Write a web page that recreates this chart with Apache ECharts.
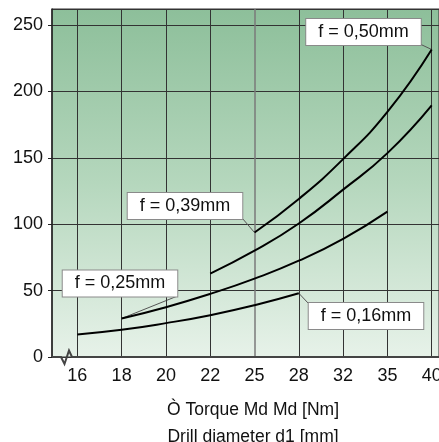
<!DOCTYPE html>
<html><head><meta charset="utf-8">
<script src="https://cdn.jsdelivr.net/npm/echarts@6/dist/echarts.min.js"></script>
<style>html,body{margin:0;padding:0;background:#fff}#c{width:439px;height:442px}</style>
</head><body><div id="c"></div>
<script>
// ---- data ----
const categories = ['16', '18', '20', '22', '25', '28', '32', '35', '40'];
const yTickStep = 50;
const yMax = 262;
// each curve starts at the given category and continues on consecutive categories
const curveF016 = [17, 20.5, 25.5, 31.5, 39, 48];          // from '16'
const curveF025 = [29, 37.5, 47.5, 59, 72.5, 89, 109.5];   // from '18'
const curveF039 = [62.8, 80, 100.5, 126, 153.5, 189.5];    // from '22'
const curveF050 = [93.7, 119, 149, 184.5, 231.5];          // from '25'
const curveStarts = ['16', '18', '22', '25'];
const labelTexts = ['f = 0,16mm', 'f = 0,25mm', 'f = 0,39mm', 'f = 0,50mm'];
const axisTitleLines = ['Ò Torque Md Md [Nm]', 'Drill diameter d1 [mm]'];

const FONT = '"Liberation Sans", Arial, Helvetica, sans-serif';

function toPairs(arr, start) {
  const s = categories.indexOf(start);
  return arr.map((v, i) => [s + i, v]);
}

// label anchor: which curve / which point; box = pixel centre of the label box, corner = leader end
const labelSpecs = [
  { curve: 0, at: 'last',  text: labelTexts[0], box: [366, 316],   corner: [308.5, 303.5] },
  { curve: 1, at: 'first', text: labelTexts[1], box: [120, 283.5], corner: [177.5, 296] },
  { curve: 3, at: 'first', text: labelTexts[2], box: [185, 206],   corner: [242.5, 218.5] },
  { curve: 3, at: 'last',  text: labelTexts[3], box: [363.5, 32],  corner: [421, 44.5] }
];

const curves = [
  toPairs(curveF016, curveStarts[0]),
  toPairs(curveF025, curveStarts[1]),
  toPairs(curveF039, curveStarts[2]),
  toPairs(curveF050, curveStarts[3])
];

const labelStyle = {
  show: true,
  position: 'top',
  backgroundColor: '#ffffff',
  borderColor: '#8a8a8a',
  borderWidth: 1,
  padding: [4, 12, 4, 12],
  fontSize: 18,
  lineHeight: 18,
  color: '#111',
  fontFamily: FONT
};

function specFor(specs, idx, len) {
  return specs.find(s => (s.at === 'first' && idx === 0) || (s.at === 'last' && idx === len - 1));
}

const series = curves.map((pts, ci) => {
  const specs = labelSpecs.filter(s => s.curve === ci);
  const data = pts.map((p, i) => {
    const sp = specFor(specs, i, pts.length);
    if (sp) return { value: p, label: Object.assign({}, labelStyle, { formatter: sp.text }) };
    return { value: p };
  });
  return {
    type: 'line',
    data: data,
    smooth: 0.5,
    showSymbol: true,
    symbol: 'circle',
    symbolSize: 2,
    itemStyle: { color: 'rgba(0,0,0,0)' },
    lineStyle: { color: '#000', width: 2 },
    label: { show: false },
    labelLine: { show: false },
    labelLayout: function (params) {
      const sp = specFor(specs, params.dataIndex, pts.length);
      if (!sp) return {};
      return { x: sp.box[0], y: sp.box[1], align: 'center', verticalAlign: 'middle' };
    },
    silent: true,
    z: 5
  };
});

// vertical grid lines at every category
series.push({
  type: 'line',
  data: [],
  silent: true,
  markLine: {
    silent: true,
    symbol: 'none',
    label: { show: false },
    lineStyle: { color: '#333', width: 1, type: 'solid' },
    data: categories.map((c, i) => ({
      xAxis: i,
      lineStyle: c === '25' ? { color: '#7a7a7a', width: 1.5, type: 'solid' } : { color: '#333', width: 1, type: 'solid' }
    }))
  },
  z: 2
});

const chart = echarts.init(document.getElementById('c'), null, { renderer: 'canvas' });
const GRID = { left: 52, top: 9, right: 0, bottom: 85 };
chart.setOption({
  animation: false,
  backgroundColor: '#ffffff',
  grid: {
    left: GRID.left, top: GRID.top, right: GRID.right, bottom: GRID.bottom,
    outerBoundsMode: 'none',
    containLabel: false,
    show: true,
    borderWidth: 1,
    borderColor: '#333',
    backgroundColor: new echarts.graphic.LinearGradient(0, 0, 0, 1, [
      { offset: 0, color: '#8dbf9a' },
      { offset: 0.5, color: '#b5d7bd' },
      { offset: 1, color: '#e7f2e9' }
    ])
  },
  xAxis: {
    type: 'value',
    min: -0.572,
    max: 8.165,
    axisLine: { show: false },
    axisTick: { show: false },
    splitLine: { show: false },
    axisLabel: {
      customValues: categories.map((c, i) => i),
      formatter: v => categories[Math.round(v)] || '',
      fontSize: 18,
      color: '#111',
      fontFamily: FONT,
      margin: 10
    }
  },
  yAxis: {
    type: 'value',
    min: 0,
    max: yMax,
    interval: yTickStep,
    axisLine: { show: true, onZero: false, lineStyle: { color: '#222', width: 1.5 } },
    axisTick: { show: true, length: 4, lineStyle: { color: '#222' } },
    splitLine: { show: true, lineStyle: { color: '#333', width: 1 } },
    axisLabel: {
      showMaxLabel: false,
      fontSize: 18,
      color: '#111',
      fontFamily: FONT,
      margin: 9
    }
  },
  series: series
});

// x-axis line with the break symbol near the origin, label leader lines, axis title
const y0 = chart.convertToPixel({ yAxisIndex: 0 }, 0);
const xL = chart.convertToPixel({ xAxisIndex: 0 }, -0.572);
const xR = chart.convertToPixel({ xAxisIndex: 0 }, 8.165);
const graphics = [{
  type: 'polyline',
  silent: true,
  z: 10,
  shape: { points: [[xL, y0], [xL + 9, y0], [xL + 12.5, y0 + 7], [xL + 17, y0 - 6.5], [xL + 20, y0], [xR, y0]] },
  style: { stroke: '#444', lineWidth: 2, fill: null }
}, {
  type: 'text',
  silent: true,
  x: 253,
  y: y0 + 39.5,
  style: {
    text: axisTitleLines.join('\n'),
    fill: '#111',
    font: '17.5px ' + FONT,
    lineHeight: 27,
    align: 'center',
    verticalAlign: 'top'
  }
}];
labelSpecs.forEach(sp => {
  const pts = curves[sp.curve];
  const p = sp.at === 'first' ? pts[0] : pts[pts.length - 1];
  const px = chart.convertToPixel({ xAxisIndex: 0, yAxisIndex: 0 }, p);
  graphics.push({
    type: 'line',
    silent: true,
    z: 4,
    shape: { x1: px[0], y1: px[1], x2: sp.corner[0], y2: sp.corner[1] },
    style: { stroke: '#555', lineWidth: 1 }
  });
});
chart.setOption({ graphic: graphics });
</script>
</body></html>
